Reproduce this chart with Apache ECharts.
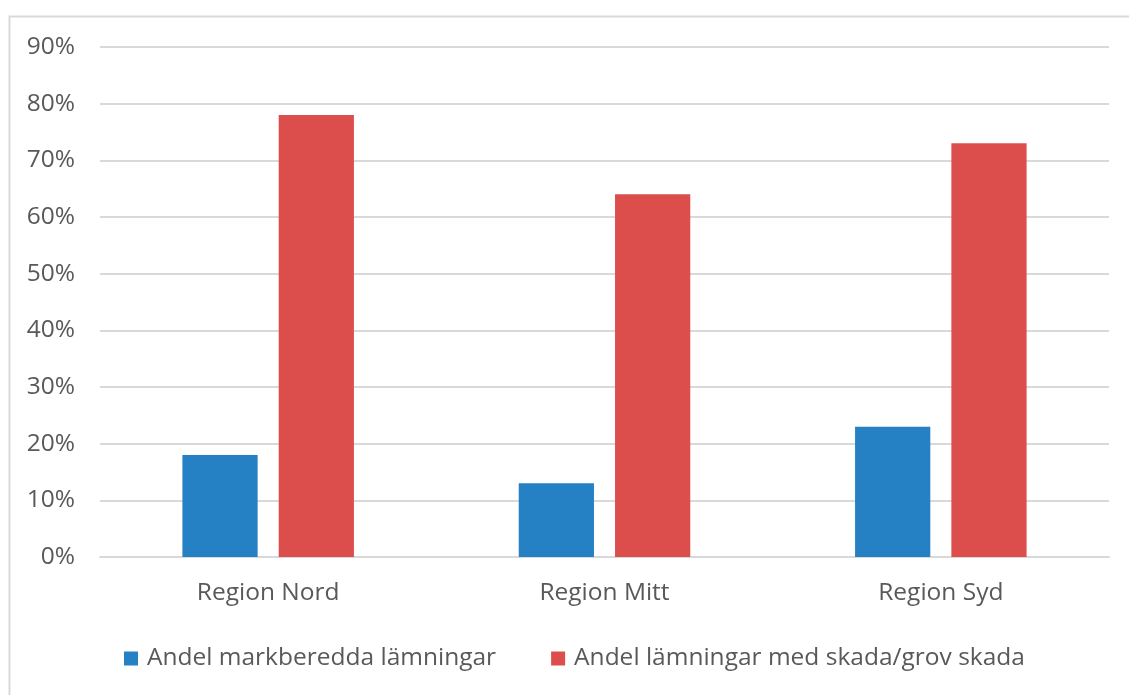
<!DOCTYPE html>
<html><head><meta charset="utf-8">
<script src="https://cdn.jsdelivr.net/npm/echarts@6/dist/echarts.min.js"></script>
<style>html,body{margin:0;padding:0;background:#fff}#c{width:1129px;height:695px}</style>
</head><body><div id="c"></div>
<script>
const categories = ['Region Nord', 'Region Mitt', 'Region Syd'];
const seriesNames = ['Andel markberedda lämningar', 'Andel lämningar med skada/grov skada'];
const markberedda = [18, 13, 23];
const skada = [78, 64, 73];
const yTicks = [0, 10, 20, 30, 40, 50, 60, 70, 80, 90];

const FONT = 'Open Sans';
const chart = echarts.init(document.getElementById('c'));
chart.setOption({
  animation: false,
  graphic: [{type: 'rect', left: 7, top: 14, shape: {width: 1130, height: 700}, style: {fill: 'none', stroke: '#D9D9D9', lineWidth: 2}}],
  grid: {left: 100, right: 20, top: 47, bottom: 138},
  legend: {
    left: 124, top: 646, padding: 0, itemWidth: 14, itemHeight: 14, itemGap: 55,
    icon: 'rect',
    textStyle: {fontFamily: FONT, fontSize: 24.5, color: '#595959', padding: [0,0,0,4]},
    data: seriesNames
  },
  xAxis: {
    type: 'category', data: categories,
    axisLine: {show: true, lineStyle: {color: '#D9D9D9', width: 2}},
    axisTick: {show: false},
    axisLabel: {fontFamily: FONT, fontSize: 24.5, color: '#595959', margin: 24}
  },
  yAxis: {
    type: 'value', min: yTicks[0], max: yTicks[yTicks.length-1], interval: 10,
    axisLine: {show: false}, axisTick: {show: false},
    splitLine: {lineStyle: {color: '#D9D9D9', width: 2}},
    axisLabel: {fontFamily: FONT, fontSize: 24.5, color: '#595959', margin: 25, formatter: v => v + '%'}
  },
  series: [
    {name: seriesNames[0], type: 'bar', data: markberedda, itemStyle: {color: '#2581C4'}, barGap: '28%', barCategoryGap: '49%'},
    {name: seriesNames[1], type: 'bar', data: skada, itemStyle: {color: '#DC4E4C'}}
  ]
});
</script></body></html>
